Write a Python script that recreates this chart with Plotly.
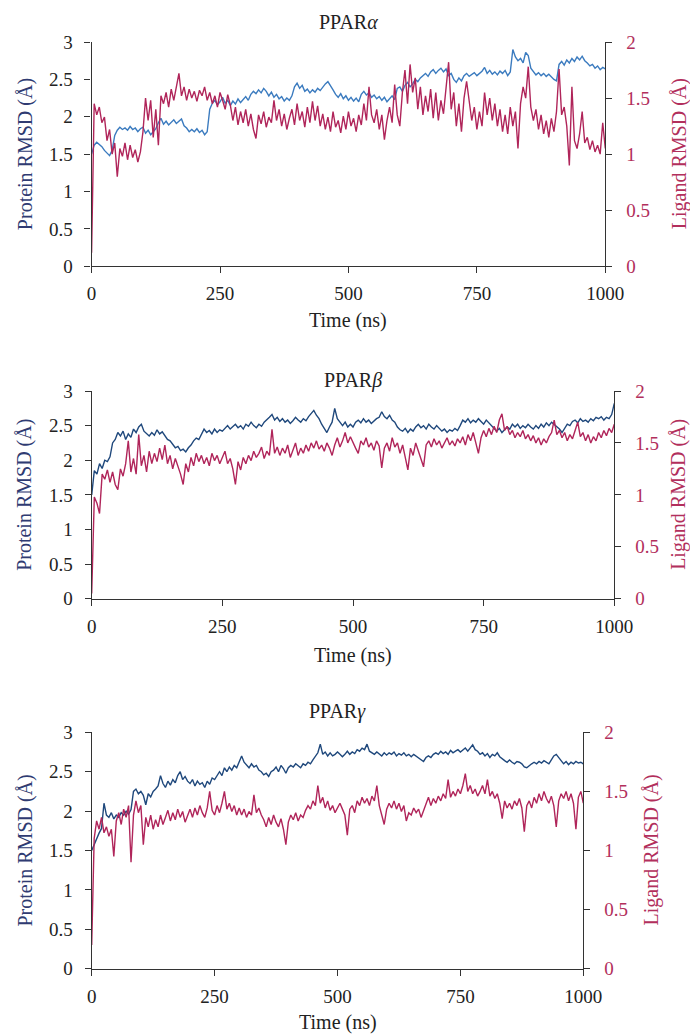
import plotly.graph_objects as go

time_ns = list(range(0, 1001, 5))

protein_alpha = [
1.50,1.62,1.66,1.63,1.60,1.55,1.52,1.48,1.55,1.75,
1.82,1.86,1.83,1.85,1.82,1.87,1.83,1.85,1.80,1.84,
1.86,1.78,1.82,1.76,1.80,1.84,1.92,1.98,1.90,1.94,
1.89,1.93,1.96,1.91,1.94,1.97,1.88,1.85,1.80,1.83,
1.80,1.84,1.79,1.82,1.76,1.80,2.10,2.18,2.22,2.16,
2.20,2.26,2.18,2.22,2.15,2.21,2.17,2.24,2.19,2.23,
2.27,2.22,2.30,2.34,2.31,2.36,2.32,2.38,2.34,2.28,
2.33,2.26,2.30,2.24,2.27,2.21,2.25,2.22,2.28,2.40,
2.45,2.38,2.42,2.34,2.37,2.32,2.36,2.33,2.38,2.35,
2.40,2.44,2.47,2.42,2.36,2.30,2.26,2.31,2.24,2.28,
2.22,2.26,2.21,2.25,2.20,2.30,2.34,2.29,2.32,2.26,
2.29,2.24,2.27,2.22,2.26,2.20,2.24,2.28,2.23,2.38,
2.40,2.34,2.42,2.46,2.40,2.44,2.50,2.47,2.52,2.55,
2.58,2.54,2.60,2.63,2.58,2.62,2.65,2.60,2.64,2.55,
2.58,2.50,2.46,2.52,2.48,2.55,2.58,2.54,2.56,2.59,
2.55,2.58,2.61,2.66,2.58,2.62,2.57,2.60,2.56,2.61,
2.58,2.62,2.55,2.60,2.90,2.80,2.75,2.78,2.72,2.86,
2.82,2.65,2.60,2.56,2.59,2.55,2.58,2.54,2.57,2.53,
2.50,2.48,2.70,2.74,2.69,2.76,2.72,2.78,2.74,2.80,
2.76,2.81,2.75,2.72,2.68,2.70,2.65,2.68,2.63,2.66,
2.64]

ligand_alpha = [
0.12,1.45,1.35,1.42,1.28,1.33,1.12,1.22,1.00,1.10,
0.80,1.05,0.98,1.10,0.95,1.08,0.97,1.04,0.93,1.02,
1.20,1.50,1.30,1.48,1.15,1.40,1.08,1.52,1.45,1.55,
1.42,1.58,1.48,1.62,1.72,1.52,1.60,1.48,1.58,1.50,
1.56,1.47,1.57,1.52,1.60,1.48,1.55,1.45,1.52,1.42,
1.55,1.48,1.40,1.53,1.44,1.30,1.42,1.26,1.38,1.28,
1.40,1.25,1.36,1.22,1.14,1.35,1.27,1.38,1.24,1.33,
1.28,1.48,1.30,1.40,1.25,1.36,1.22,1.32,1.40,1.26,
1.45,1.30,1.38,1.24,1.42,1.28,1.47,1.30,1.43,1.25,
1.36,1.22,1.33,1.20,1.38,1.24,1.30,1.19,1.34,1.22,
1.38,1.25,1.32,1.20,1.35,1.26,1.45,1.30,1.60,1.35,
1.28,1.40,1.22,1.35,1.13,1.30,1.42,1.28,1.62,1.35,
1.25,1.55,1.75,1.45,1.80,1.55,1.68,1.40,1.60,1.35,
1.52,1.38,1.58,1.32,1.55,1.30,1.48,1.36,1.62,1.82,
1.40,1.55,1.25,1.45,1.20,1.50,1.65,1.45,1.30,1.42,
1.22,1.38,1.25,1.55,1.35,1.50,1.30,1.45,1.25,1.40,
1.20,1.35,1.18,1.42,1.25,1.38,1.05,1.45,1.60,1.50,
1.78,1.42,1.30,1.40,1.22,1.35,1.18,1.30,1.15,1.32,
1.20,1.38,1.76,1.35,1.42,1.25,0.90,1.60,1.12,1.05,
1.18,1.38,1.10,1.15,1.04,1.12,1.02,1.08,1.00,1.28,
1.05]

protein_beta = [
1.50,1.85,1.80,1.95,1.88,2.00,1.98,2.05,2.25,2.30,
2.40,2.35,2.42,2.30,2.38,2.33,2.45,2.40,2.48,2.52,
2.42,2.38,2.35,2.40,2.36,2.44,2.38,2.41,2.35,2.30,
2.28,2.22,2.18,2.20,2.14,2.16,2.12,2.18,2.22,2.28,
2.32,2.30,2.38,2.45,2.40,2.43,2.38,2.45,2.40,2.44,
2.42,2.46,2.50,2.45,2.48,2.52,2.47,2.50,2.45,2.52,
2.49,2.55,2.50,2.47,2.52,2.49,2.55,2.58,2.62,2.66,
2.58,2.62,2.56,2.60,2.55,2.58,2.53,2.57,2.62,2.58,
2.55,2.60,2.57,2.63,2.68,2.72,2.65,2.60,2.52,2.45,
2.40,2.48,2.55,2.75,2.60,2.55,2.50,2.55,2.48,2.52,
2.48,2.55,2.58,2.54,2.60,2.55,2.58,2.53,2.57,2.60,
2.62,2.70,2.63,2.60,2.65,2.58,2.55,2.48,2.44,2.42,
2.46,2.40,2.45,2.42,2.48,2.52,2.47,2.50,2.45,2.52,
2.48,2.45,2.50,2.46,2.42,2.45,2.40,2.44,2.42,2.46,
2.43,2.50,2.58,2.55,2.60,2.54,2.58,2.55,2.60,2.56,
2.52,2.58,2.54,2.50,2.45,2.42,2.46,2.40,2.44,2.48,
2.45,2.52,2.48,2.52,2.46,2.50,2.47,2.52,2.48,2.45,
2.50,2.46,2.52,2.48,2.54,2.50,2.55,2.52,2.48,2.45,
2.40,2.47,2.52,2.50,2.56,2.58,2.54,2.60,2.56,2.58,
2.55,2.60,2.57,2.62,2.60,2.63,2.58,2.62,2.60,2.66,
2.82]

ligand_beta = [
0.05,0.98,0.92,0.82,1.20,1.15,1.24,1.12,1.22,1.10,
1.05,1.25,1.18,1.30,1.52,1.22,1.35,1.20,1.58,1.28,
1.38,1.22,1.42,1.30,1.40,1.32,1.45,1.34,1.48,1.30,
1.38,1.25,1.35,1.28,1.20,1.10,1.30,1.22,1.36,1.28,
1.40,1.32,1.38,1.30,1.36,1.28,1.40,1.33,1.38,1.30,
1.36,1.42,1.30,1.35,1.25,1.10,1.32,1.24,1.36,1.30,
1.38,1.33,1.42,1.36,1.40,1.46,1.35,1.42,1.38,1.63,
1.40,1.46,1.38,1.45,1.40,1.48,1.36,1.44,1.50,1.38,
1.45,1.40,1.48,1.42,1.50,1.45,1.52,1.44,1.48,1.42,
1.50,1.45,1.38,1.48,1.55,1.46,1.52,1.60,1.50,1.56,
1.50,1.45,1.40,1.52,1.48,1.55,1.46,1.50,1.43,1.52,
1.47,1.26,1.45,1.50,1.42,1.55,1.46,1.50,1.40,1.48,
1.36,1.24,1.45,1.38,1.50,1.42,1.35,1.27,1.48,1.52,
1.46,1.54,1.48,1.52,1.45,1.50,1.55,1.48,1.52,1.47,
1.54,1.50,1.56,1.48,1.58,1.52,1.60,1.50,1.40,1.55,
1.62,1.56,1.64,1.58,1.66,1.60,1.72,1.78,1.62,1.66,
1.58,1.62,1.55,1.60,1.56,1.62,1.54,1.58,1.52,1.57,
1.50,1.55,1.48,1.54,1.50,1.56,1.60,1.72,1.58,1.62,
1.55,1.60,1.52,1.58,1.54,1.62,1.70,1.56,1.60,1.52,
1.58,1.50,1.56,1.52,1.60,1.55,1.62,1.57,1.64,1.60,
1.68]

protein_gamma = [
1.50,1.58,1.65,1.72,1.78,2.10,1.95,1.92,1.98,1.90,
1.95,1.92,1.98,1.95,2.00,1.96,2.02,2.25,2.28,2.22,
2.25,2.20,2.08,2.22,2.18,2.25,2.28,2.32,2.45,2.35,
2.30,2.38,2.33,2.40,2.36,2.45,2.50,2.40,2.44,2.38,
2.35,2.40,2.32,2.38,2.34,2.36,2.30,2.38,2.34,2.42,
2.40,2.46,2.50,2.45,2.55,2.50,2.56,2.52,2.58,2.55,
2.62,2.70,2.62,2.58,2.55,2.60,2.56,2.58,2.52,2.50,
2.46,2.48,2.44,2.50,2.52,2.56,2.50,2.58,2.54,2.48,
2.55,2.58,2.56,2.60,2.57,2.55,2.60,2.58,2.62,2.60,
2.65,2.70,2.74,2.85,2.72,2.75,2.70,2.74,2.70,2.72,
2.75,2.72,2.69,2.72,2.76,2.72,2.75,2.73,2.78,2.76,
2.80,2.78,2.85,2.76,2.74,2.72,2.75,2.72,2.70,2.74,
2.71,2.74,2.72,2.75,2.70,2.73,2.71,2.74,2.70,2.72,
2.69,2.72,2.70,2.68,2.66,2.63,2.68,2.70,2.68,2.72,
2.74,2.72,2.76,2.73,2.75,2.72,2.77,2.74,2.76,2.78,
2.75,2.78,2.80,2.76,2.80,2.84,2.78,2.76,2.72,2.74,
2.70,2.73,2.68,2.72,2.70,2.74,2.69,2.66,2.64,2.62,
2.65,2.62,2.60,2.63,2.62,2.60,2.56,2.55,2.58,2.60,
2.62,2.60,2.63,2.61,2.64,2.62,2.60,2.65,2.70,2.72,
2.68,2.64,2.60,2.63,2.59,2.62,2.60,2.63,2.61,2.62,
2.60]

ligand_gamma = [
0.20,1.10,1.25,1.18,1.28,1.15,1.20,1.12,1.18,0.95,
1.25,1.32,1.22,1.35,1.28,1.38,0.90,1.30,1.42,1.32,
1.38,1.05,1.28,1.20,1.30,1.18,1.26,1.20,1.30,1.22,
1.28,1.34,1.25,1.32,1.26,1.35,1.28,1.33,1.24,1.30,
1.35,1.28,1.36,1.30,1.38,1.32,1.28,1.36,1.50,1.34,
1.30,1.38,1.32,1.40,1.50,1.35,1.40,1.33,1.38,1.30,
1.36,1.30,1.35,1.28,1.33,1.30,1.47,1.32,1.36,1.30,
1.26,1.20,1.28,1.22,1.30,1.24,1.20,1.27,1.18,1.05,
1.24,1.30,1.26,1.32,1.25,1.30,1.28,1.34,1.38,1.35,
1.42,1.38,1.55,1.40,1.45,1.36,1.42,1.34,1.38,1.32,
1.36,1.40,1.35,1.30,1.13,1.35,1.38,1.32,1.42,1.38,
1.45,1.40,1.44,1.38,1.46,1.42,1.55,1.38,1.30,1.22,
1.35,1.40,1.36,1.42,1.35,1.40,1.33,1.38,1.25,1.32,
1.30,1.36,1.32,1.35,1.28,1.34,1.40,1.45,1.38,1.44,
1.40,1.46,1.42,1.48,1.44,1.60,1.45,1.50,1.46,1.52,
1.48,1.55,1.65,1.50,1.55,1.48,1.52,1.46,1.50,1.55,
1.48,1.60,1.46,1.50,1.44,1.48,1.40,1.27,1.42,1.36,
1.40,1.35,1.42,1.38,1.44,1.36,1.16,1.38,1.42,1.36,
1.45,1.40,1.48,1.42,1.50,1.44,1.40,1.46,1.38,1.20,
1.42,1.48,1.44,1.50,1.42,1.48,1.40,1.18,1.45,1.50,
1.40]

panel_titles = ["PPAR<i>α</i>", "PPAR<i>β</i>", "PPAR<i>γ</i>"]
x_ticks = [0, 250, 500, 750, 1000]
protein_ticks = [0, 0.5, 1, 1.5, 2, 2.5, 3]
ligand_ticks = [0, 0.5, 1, 1.5, 2]
x_title = "Time (ns)"
protein_title = "Protein RMSD (Å)"
ligand_title = "Ligand RMSD (Å)"

W, H = 690, 1034
FONT = "Liberation Serif"
TICK_SIZE = 19
LABEL_SIZE = 20
RED = "#b0255a"
NAVY = "#1f487c"
BLUE_A = "#3b7bbf"
LBL_NAVY = "#2f3b72"
LBL_RED = "#b22f5c"
AX = "#333333"
TXT = "#222222"

# pixel geometry of each panel: left, right, top, bottom, title y, xlabel y, right label x
panels = [
    dict(l=91.6, r=605.3, t=42.0, b=266.3, ty=22, xy=320, rx=679),
    dict(l=91.7, r=614.3, t=391.0, b=598.7, ty=381, xy=655, rx=679),
    dict(l=91.7, r=583.3, t=732.3, b=968.7, ty=711, xy=1022, rx=651),
]
prot_series = [protein_alpha, protein_beta, protein_gamma]
lig_series = [ligand_alpha, ligand_beta, ligand_gamma]
prot_colors = [BLUE_A, NAVY, NAVY]

fig = go.Figure()
layout = dict(
    width=W, height=H, margin=dict(l=0, r=0, t=0, b=0, autoexpand=False),
    paper_bgcolor="white", plot_bgcolor="white", showlegend=False,
    font=dict(family=FONT, size=TICK_SIZE, color=TXT),
)
annotations = []

def px(x):
    return x / W

def py(y):
    return 1 - y / H

common_axis = dict(ticks="outside", ticklen=6, tickwidth=1.3, tickcolor=AX,
                   showline=True, linecolor=AX, linewidth=1.3,
                   showgrid=False, zeroline=False, automargin=False)

for i, p in enumerate(panels):
    xa = "x" if i == 0 else f"x{i+1}"
    ya_l = f"y{2*i+1}" if i > 0 else "y"
    ya_r = f"y{2*i+2}"
    xkey = "xaxis" if i == 0 else f"xaxis{i+1}"
    ylkey = "yaxis" if i == 0 else f"yaxis{2*i+1}"
    yrkey = f"yaxis{2*i+2}"

    fig.add_trace(go.Scatter(x=time_ns, y=prot_series[i], mode="lines",
                             line=dict(color=prot_colors[i], width=1.4),
                             xaxis=xa, yaxis=ya_l, hoverinfo="skip"))
    fig.add_trace(go.Scatter(x=time_ns, y=lig_series[i], mode="lines",
                             line=dict(color=RED, width=1.4),
                             xaxis=xa, yaxis=ya_r, hoverinfo="skip"))

    layout[xkey] = dict(
        domain=[px(p["l"]), px(p["r"])], anchor=ya_l, range=[0, 1000],
        tickvals=x_ticks, ticktext=[str(v) for v in x_ticks],
        ticklabelstandoff=4,
        tickfont=dict(family=FONT, size=TICK_SIZE, color=TXT), **common_axis,
    )
    layout[ylkey] = dict(
        domain=[py(p["b"]), py(p["t"])], anchor=xa, range=[0, 3],
        tickvals=protein_ticks, ticktext=[f"{v:g}" for v in protein_ticks],
        ticklabelstandoff=8,
        tickfont=dict(family=FONT, size=TICK_SIZE, color=TXT), **common_axis,
    )
    layout[yrkey] = dict(
        overlaying=ya_l, anchor=xa, side="right", range=[0, 2],
        tickvals=ligand_ticks, ticktext=[f"{v:g}" for v in ligand_ticks],
        ticklabelstandoff=10,
        tickfont=dict(family=FONT, size=TICK_SIZE, color=LBL_RED), **common_axis,
    )
    cx = (p["l"] + p["r"]) / 2
    cy = (p["t"] + p["b"]) / 2
    annotations.append(dict(text=panel_titles[i], x=px(cx), y=py(p["ty"]), xref="paper", yref="paper",
                            showarrow=False, xanchor="center", yanchor="middle",
                            font=dict(family=FONT, size=LABEL_SIZE, color=TXT)))
    annotations.append(dict(text=x_title, x=px(cx), y=py(p["xy"]), xref="paper", yref="paper",
                            showarrow=False, xanchor="center", yanchor="middle",
                            font=dict(family=FONT, size=LABEL_SIZE, color=TXT)))
    annotations.append(dict(text=protein_title, x=px(25), y=py(cy), xref="paper", yref="paper",
                            showarrow=False, xanchor="center", yanchor="middle", textangle=-90,
                            font=dict(family=FONT, size=LABEL_SIZE, color=LBL_NAVY)))
    annotations.append(dict(text=ligand_title, x=px(p["rx"]), y=py(cy), xref="paper", yref="paper",
                            showarrow=False, xanchor="center", yanchor="middle", textangle=-90,
                            font=dict(family=FONT, size=LABEL_SIZE, color=LBL_RED)))

layout["annotations"] = annotations
fig.update_layout(**layout)
# remove the browser's default 8px body margin so the figure sits at the page origin
fig.write_html("out.html",
               config={"displayModeBar": False},
               post_script="document.body.style.margin='0';document.body.style.padding='0';")
